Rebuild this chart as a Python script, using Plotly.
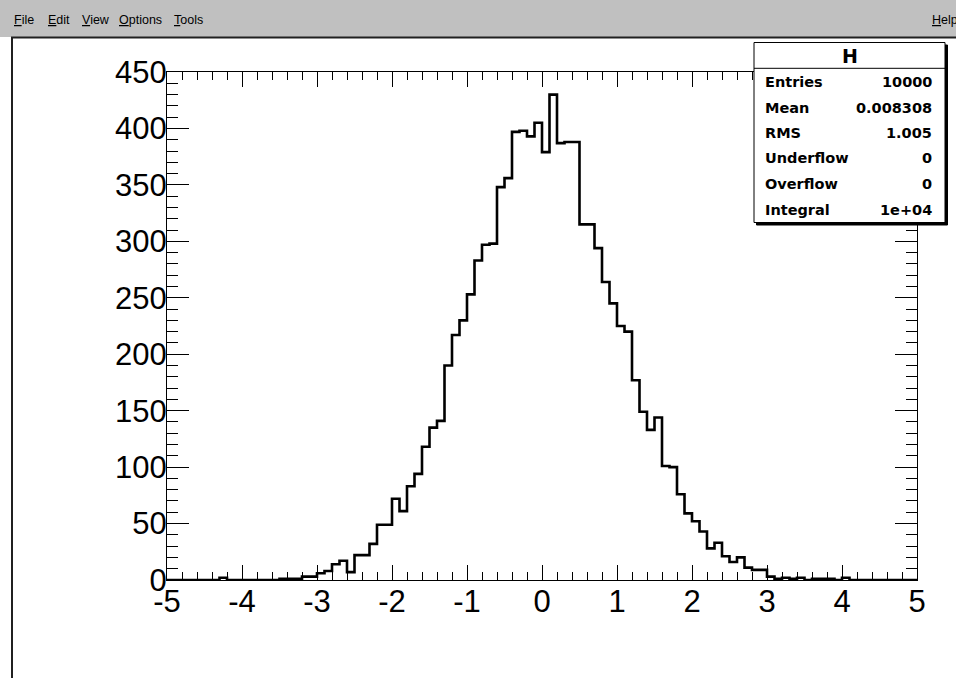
import plotly.graph_objects as go

# ---------------- data ----------------
x_min = -5.0
bin_width = 0.1
counts = [0, 0, 0, 0, 0, 0, 0, 2, 0, 0,
          0, 0, 0, 0, 0, 1, 1, 1, 3, 3,
          6, 8, 14, 17, 7, 22, 22, 32, 49, 49,
          72, 61, 83, 94, 118, 135, 141, 190, 217, 230,
          253, 283, 297, 298, 348, 356, 397, 398, 393, 405,
          379, 430, 387, 388, 388, 315, 315, 294, 264, 245,
          225, 220, 177, 149, 133, 144, 101, 100, 76, 59,
          52, 43, 28, 33, 21, 16, 20, 11, 9, 9,
          3, 1, 2, 1, 2, 0, 1, 1, 1, 0,
          2, 0, 0, 0, 0, 0, 0, 0, 0, 0]

x_tick_vals = [-5, -4, -3, -2, -1, 0, 1, 2, 3, 4, 5]
x_tick_text = ["-5", "-4", "-3", "-2", "-1", "0", "1", "2", "3", "4", "5"]
y_tick_vals = [0, 50, 100, 150, 200, 250, 300, 350, 400, 450]
y_tick_text = ["0", "50", "100", "150", "200", "250", "300", "350", "400", "450"]

stats_title = "H"
stats_labels = ["Entries", "Mean", "RMS", "Underflow", "Overflow", "Integral"]
stats_values = ["10000", "0.008308", "1.005", "0", "0", "1e+04"]

menu_items = ["File", "Edit", "View", "Options", "Tools"]
menu_x = [12, 46, 80, 117, 172]
help_item = "Help"

# ---------------- geometry helpers (pixel -> paper) ----------------
W, H = 956, 678
L, R, T, B = 167, 917, 72, 580


def PX(x):
    return (x - L) / (R - L)


def PY(y):
    return (B - y) / (B - T)


edges = [x_min + bin_width * i for i in range(len(counts) + 1)]
yvals = counts + [counts[-1]]

fig = go.Figure()
fig.add_trace(go.Scatter(x=edges, y=yvals, mode="lines", line_shape="hv",
                         line=dict(color="black", width=2.6),
                         hoverinfo="skip", showlegend=False))

tickfont = dict(family="Liberation Sans, Arial, sans-serif", size=31, color="black")

fig.update_layout(
    width=W, height=H, autosize=False,
    margin=dict(l=L, r=W - R, t=T, b=H - B, pad=0),
    paper_bgcolor="white", plot_bgcolor="white",
    xaxis=dict(range=[-5, 5], tickmode="array", tickvals=x_tick_vals, ticktext=x_tick_text,
               ticks="inside", ticklen=15,
               tickwidth=1, tickcolor="black", showline=True, linecolor="black",
               linewidth=1, mirror="ticks", showgrid=False, zeroline=False,
               tickfont=tickfont, ticklabelstandoff=-6,
               minor=dict(tick0=-5, dtick=0.2, ticks="inside", ticklen=8, tickwidth=1,
                          tickcolor="black", showgrid=False)),
    yaxis=dict(range=[0, 450], tickmode="array", tickvals=y_tick_vals, ticktext=y_tick_text,
               ticks="inside", ticklen=22,
               tickwidth=1, tickcolor="black", showline=True, linecolor="black",
               linewidth=1, mirror="ticks", showgrid=False, zeroline=False,
               tickfont=tickfont, ticklabelstandoff=-7,
               minor=dict(tick0=0, dtick=10, ticks="inside", ticklen=11, tickwidth=1,
                          tickcolor="black", showgrid=False)),
)

shapes = []
# menu bar
shapes.append(dict(type="rect", xref="paper", yref="paper", x0=PX(0), x1=PX(W),
                   y0=PY(0), y1=PY(37), fillcolor="#c0c0c0", line=dict(width=0),
                   layer="above"))
shapes.append(dict(type="line", xref="paper", yref="paper", x0=PX(11), x1=PX(W),
                   y0=PY(37.5), y1=PY(37.5), line=dict(color="#202020", width=2),
                   layer="above"))
shapes.append(dict(type="line", xref="paper", yref="paper", x0=PX(12), x1=PX(12),
                   y0=PY(37), y1=PY(H), line=dict(color="#202020", width=2),
                   layer="above"))
# stats box: shadow, box, separator
bx0, bx1, by0, by1 = 754, 945, 42.5, 222.5
shapes.append(dict(type="rect", xref="paper", yref="paper", x0=PX(bx0 + 2.5), x1=PX(bx1 + 2.5),
                   y0=PY(by0 + 2.5), y1=PY(by1 + 2.5), fillcolor="black",
                   line=dict(color="black", width=1), layer="above"))
shapes.append(dict(type="rect", xref="paper", yref="paper", x0=PX(bx0), x1=PX(bx1),
                   y0=PY(by0), y1=PY(by1), fillcolor="white",
                   line=dict(color="black", width=1), layer="above"))
shapes.append(dict(type="line", xref="paper", yref="paper", x0=PX(bx0), x1=PX(bx1),
                   y0=PY(68.3), y1=PY(68.3), line=dict(color="black", width=1),
                   layer="above"))
fig.update_layout(shapes=shapes)

ann = []
menu_font = dict(family="Liberation Sans, Arial, sans-serif", size=12.5, color="black")
for name, mx in zip(menu_items, menu_x):
    ann.append(dict(xref="paper", yref="paper", x=PX(mx), y=PY(20),
                    text="<u>" + name[0] + "</u>" + name[1:], showarrow=False,
                    xanchor="left", yanchor="middle", font=menu_font))
ann.append(dict(xref="paper", yref="paper", x=PX(930), y=PY(20),
                text="<u>" + help_item[0] + "</u>" + help_item[1:], showarrow=False,
                xanchor="left", yanchor="middle", font=menu_font))

stat_font = dict(family="DejaVu Sans, sans-serif", size=14.5, color="black")
ann.append(dict(xref="paper", yref="paper", x=PX((bx0 + bx1) / 2), y=PY(56),
                text="<b>" + stats_title + "</b>", showarrow=False,
                xanchor="center", yanchor="middle",
                font=dict(family="DejaVu Sans, sans-serif", size=19, color="black")))
row_y = [81.7, 107.7, 133.3, 158.3, 184.3, 210.0]
for lab, val, ry in zip(stats_labels, stats_values, row_y):
    ann.append(dict(xref="paper", yref="paper", x=PX(763), y=PY(ry),
                    text="<b>" + lab + "</b>", showarrow=False,
                    xanchor="left", yanchor="middle", font=stat_font))
    ann.append(dict(xref="paper", yref="paper", x=PX(934), y=PY(ry),
                    text="<b>" + val + "</b>", showarrow=False,
                    xanchor="right", yanchor="middle", font=stat_font))
fig.update_layout(annotations=ann)

fig.write_html("out.html")
